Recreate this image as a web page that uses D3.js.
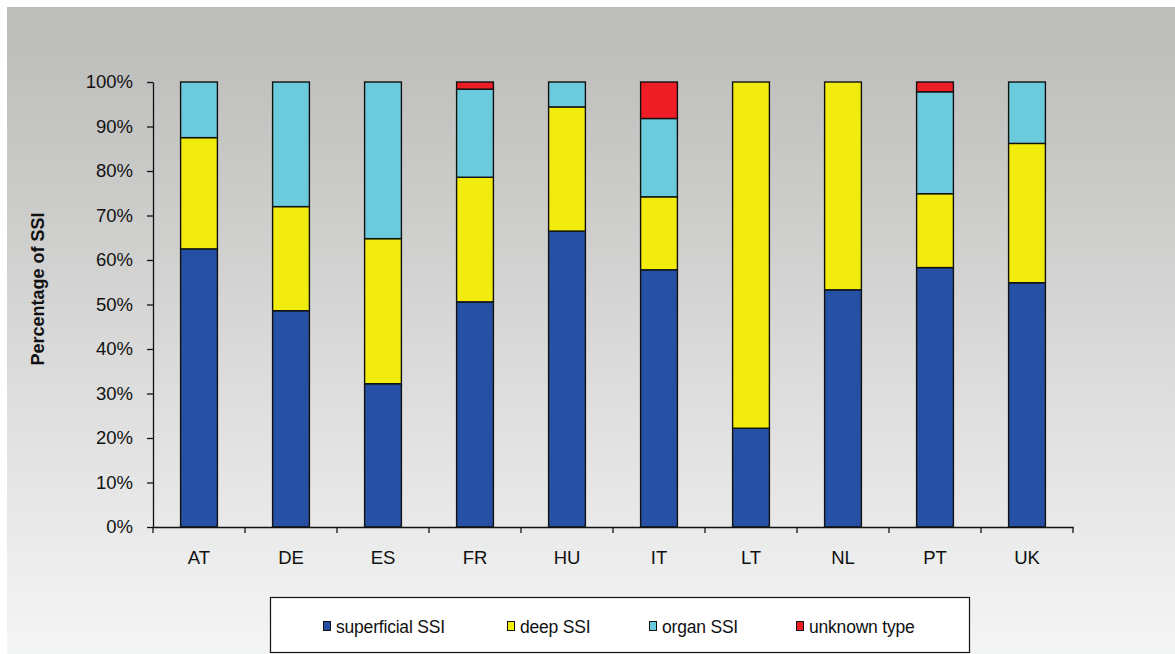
<!DOCTYPE html>
<html>
<head>
<meta charset="utf-8">
<script src="https://cdn.jsdelivr.net/npm/d3@7"></script>
<style>
  html, body { margin: 0; padding: 0; background: #ffffff; }
  svg { display: block; font-family: "Liberation Sans", Arial, sans-serif; }
</style>
</head>
<body>
<svg id="chart" width="1175" height="654"></svg>
<script>
// Distribution of SSI types by country (percent of all SSI)
const countries   = ["AT", "DE", "ES", "FR", "HU", "IT", "LT", "NL", "PT", "UK"];
const superficial = [62.5, 48.6, 32.2, 50.6, 66.5, 57.8, 22.2, 53.3, 58.3, 54.9];
const deep        = [25.0, 23.4, 32.6, 28.0, 27.9, 16.4, 77.8, 46.7, 16.6, 31.3];
const organ       = [12.5, 28.0, 35.2, 19.8,  5.6, 17.6,  0.0,  0.0, 22.9, 13.8];
const unknown     = [ 0.0,  0.0,  0.0,  1.6,  0.0,  8.2,  0.0,  0.0,  2.2,  0.0];
const seriesNames = ["superficial SSI", "deep SSI", "organ SSI", "unknown type"];
const seriesColors = ["#2550a4", "#f2eb0e", "#6bcbdc", "#ef1d25"];
const yTicks = [0, 10, 20, 30, 40, 50, 60, 70, 80, 90, 100];

const svg = d3.select("#chart");

// panel background with vertical gray-to-white gradient
const defs = svg.append("defs");
const grad = defs.append("linearGradient")
  .attr("id", "bg").attr("x1", 0).attr("y1", 0).attr("x2", 0).attr("y2", 1);
grad.append("stop").attr("offset", "0%").attr("stop-color", "#bdbdbb");
grad.append("stop").attr("offset", "8%").attr("stop-color", "#bfbfbd");
grad.append("stop").attr("offset", "100%").attr("stop-color", "#f4f5f5");
svg.append("rect").attr("x", 7).attr("y", 7).attr("width", 1168).attr("height", 647)
  .attr("fill", "url(#bg)");

const plot = { left: 153, right: 1073, top: 82, bottom: 527 };

const x = d3.scaleBand().domain(countries).range([plot.left, plot.right]).padding(0);
const y = d3.scaleLinear().domain([0, 100]).range([plot.bottom, plot.top]);
const barW = x.bandwidth() * 0.4;

// stacked data
const rows = countries.map((c, i) => ({
  country: c,
  "superficial SSI": superficial[i],
  "deep SSI": deep[i],
  "organ SSI": organ[i],
  "unknown type": unknown[i]
}));
const stacked = d3.stack().keys(seriesNames)(rows);

const g = svg.append("g");
stacked.forEach((layer, li) => {
  g.append("g").selectAll("rect")
    .data(layer.filter(d => d[1] - d[0] > 0))
    .join("rect")
    .attr("x", d => x(d.data.country) + (x.bandwidth() - barW) / 2)
    .attr("y", d => y(d[1]))
    .attr("width", barW)
    .attr("height", d => y(d[0]) - y(d[1]))
    .attr("fill", seriesColors[li])
    .attr("stroke", "#111")
    .attr("stroke-width", 1.4);
});

// y axis
const yAxis = d3.axisLeft(y).tickValues(yTicks).tickFormat(d => d + "%")
  .tickSizeInner(6).tickSizeOuter(0).tickPadding(14);
const yg = svg.append("g").attr("transform", `translate(${plot.left},0)`).call(yAxis);
yg.selectAll("text").attr("font-size", 18.5).attr("fill", "#111")
  .attr("font-family", "'Liberation Sans', Arial, sans-serif");
yg.selectAll("line, path").attr("stroke", "#111").attr("stroke-width", 1.3);

// x axis with ticks at category boundaries
const xAxis = d3.axisBottom(x).tickSize(0).tickPadding(24);
const xg = svg.append("g").attr("transform", `translate(0,${plot.bottom})`).call(xAxis);
xg.select(".domain").attr("stroke", "#111").attr("stroke-width", 1.3);
xg.selectAll("text").attr("font-size", 18.5).attr("fill", "#111")
  .attr("font-family", "'Liberation Sans', Arial, sans-serif");
const bounds = countries.map(c => x(c)).concat([plot.right]);
xg.selectAll("line.bound").data(bounds).join("line").attr("class", "bound")
  .attr("x1", d => d).attr("x2", d => d).attr("y1", 0).attr("y2", 6)
  .attr("stroke", "#111").attr("stroke-width", 1.3);

// y axis title
svg.append("text")
  .attr("transform", "translate(44,289) rotate(-90)")
  .attr("text-anchor", "middle")
  .attr("font-size", 18).attr("font-weight", "bold").attr("fill", "#111")
  .text("Percentage of SSI");

// legend
const lg = svg.append("g");
lg.append("rect").attr("x", 270.5).attr("y", 597.5).attr("width", 699).attr("height", 55)
  .attr("fill", "#ffffff").attr("stroke", "#111").attr("stroke-width", 1.2);
const legendX = [323, 507, 649, 796];
seriesNames.forEach((name, i) => {
  lg.append("rect").attr("x", legendX[i] + 0.5).attr("y", 621.5).attr("width", 7).attr("height", 9)
    .attr("fill", seriesColors[i]).attr("stroke", "#111").attr("stroke-width", 1);
  lg.append("text").attr("x", legendX[i] + 13).attr("y", 632.5)
    .attr("font-size", 17.5).attr("fill", "#111").attr("letter-spacing", -0.2)
    .text(name);
});
</script>
</body>
</html>
